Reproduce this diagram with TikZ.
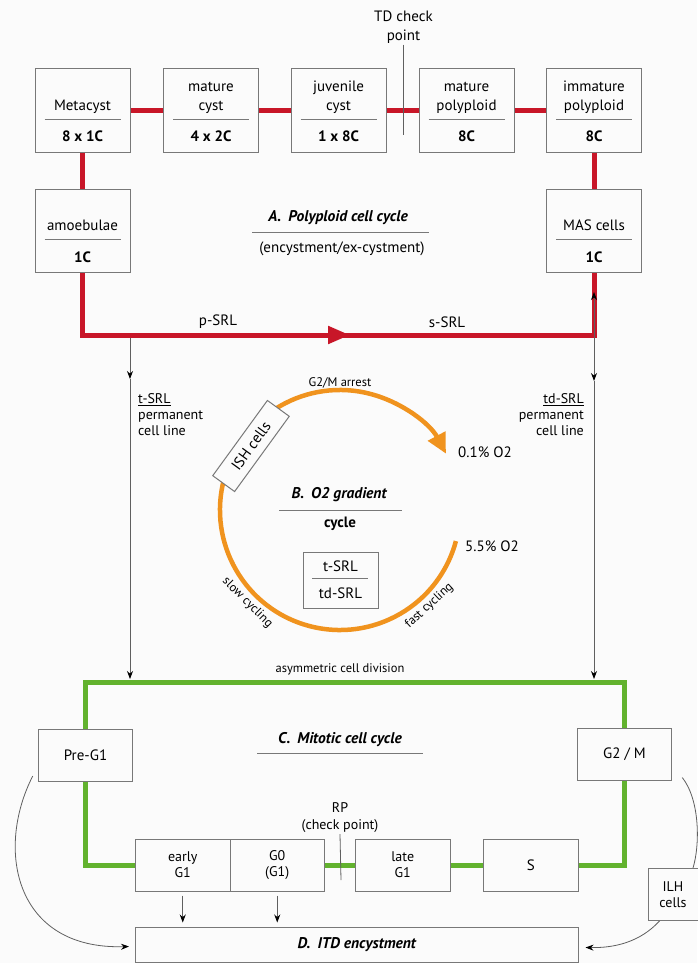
\documentclass[tikz,border=0pt]{standalone}
\usepackage{fontspec}
\setmainfont{PT Sans}
\usepackage{tikz}
\usetikzlibrary{calc,arrows.meta}
\definecolor{cystred}{RGB}{200,22,40}
\definecolor{mitgreen}{RGB}{98,178,46}
\definecolor{oxorange}{RGB}{240,147,30}
\definecolor{boxgray}{RGB}{120,120,120}
\definecolor{linegray}{RGB}{95,95,95}
\definecolor{bg}{RGB}{251,251,251}
\def\basefont{\fontsize{15}{19}\selectfont}
\def\smallfont{\fontsize{14}{16}\selectfont}
\def\tinyfont{\fontsize{12.5}{15}\selectfont}
\def\titlefont{\fontsize{15.5}{19}\selectfont\bfseries\itshape}
\def\drawred{\draw[color=cystred, line width=5pt]}
\def\drawgreen{\draw[color=mitgreen, line width=5pt]}
\def\drawline{\draw[color=linegray, line width=0.8pt]}
\def\drawrule{\draw[color=boxgray, line width=0.9pt]}
\def\stagenode{\node[draw=boxgray, line width=1pt, fill=bg, minimum width=95pt, minimum height=83pt]}
\def\phasenode{\node[draw=boxgray, line width=1pt, fill=bg, minimum width=94.5pt, minimum height=52pt, align=center, font=\smallfont]}
\newcommand{\stagetext}[3]{% box, upper text, lower text
  \node[anchor=south, align=center, inner sep=0pt, text depth=4pt] (#1-up) at ($(#1.center)+(0,4)$) {#2};
  \drawrule ($(#1.center)+(-38,8.5)$) -- ($(#1.center)+(38,8.5)$);
  \node[font=\basefont\bfseries] (#1-lo) at ($(#1.center)+(0,26)$) {#3};
}

\begin{document}
\begin{tikzpicture}[x=1pt,y=-1pt,font=\basefont,
  >={Stealth[length=8pt,width=6pt,color=black]}]
\useasboundingbox (0,0) rectangle (697,963);
\fill[bg] (0,0) rectangle (697,963);

% A. polyploid cell cycle
\stagenode (meta) at (82.5,110.5) {};
\stagenode (mcyst) at (211,110.5) {};
\stagenode (jcyst) at (338.5,110.5) {};
\stagenode (mpoly) at (466.5,110.5) {};
\stagenode (ipoly) at (594,110.5) {};
\stagenode (amoeb) at (82.5,231) {};
\stagenode (mas) at (594,231) {};
\stagetext{meta}{Metacyst}{8 x 1C}
\stagetext{mcyst}{mature\\cyst}{4 x 2C}
\stagetext{jcyst}{juvenile\\cyst}{1 x 8C}
\stagetext{mpoly}{mature\\polyploid}{8C}
\stagetext{ipoly}{immature\\polyploid}{8C}
\stagetext{amoeb}{amoebulae}{1C}
\stagetext{mas}{MAS cells}{1C}

\drawred (meta) -- (mcyst);
\drawred (mcyst) -- (jcyst);
\drawred (jcyst) -- (mpoly);
\drawred (mpoly) -- (ipoly);
\drawred (meta) -- (amoeb);
\drawred (ipoly) -- (mas);

% loop back, arrow head sits in the middle
\coordinate (srl-mid) at (350,335);
\drawred (amoeb.south) |- (srl-mid) -| (mas.south);
\drawred[-{Triangle[length=22pt,width=17pt]}] ($(srl-mid)+(-30,0)$) -- (srl-mid);
\node (psrl) at (218,322) {p-SRL};
\node (ssrl) at (447,322) {s-SRL};

\node[font=\titlefont] (a-title) at (338,218) {A.\hspace{3pt} Polyploid cell cycle};
\drawrule (252,232) -- (429,232);
\node (a-sub) at (342,249) {(encystment/ex-cystment)};

\node[align=center, inner sep=1pt] (tdcheck) at (403.5,27) {TD check\\point};
\coordinate (td-end) at (403.5,135);
\drawline (tdcheck.south) -- (td-end);

% permanent cell lines
\coordinate (t-top) at (130,337.5);
\coordinate (t-mid) at (130,379);
\coordinate (t-bot) at (130,679);
\drawline[->] (t-top) -- (t-mid);
\drawline[->] (t-mid) -- (t-bot);
\coordinate (td-top) at (594,292);
\coordinate (td-mid) at (594,381);
\coordinate (td-bot) at (594,679);
\drawline[<->] (td-top) -- (td-mid);
\drawline[->] (td-mid) -- (td-bot);
\node[anchor=north west, align=left, inner sep=0pt, font=\smallfont] (tsrl) at (138,393) {\underline{t-SRL}\\permanent\\cell line};
\node[anchor=north east, align=right, inner sep=0pt, font=\smallfont] (tdsrl) at (584,393) {\underline{td-SRL}\\permanent\\cell line};

% B. O2 gradient
\coordinate (o2c) at (340,510);
\draw[color=oxorange, line width=4.5pt, -{Triangle[length=20pt,width=19pt]}]
  ($(o2c)+(-15:120pt)$) arc[start angle=-15, end angle=-332, radius=120pt];
\node[draw=boxgray, line width=1pt, fill=bg, rotate=54, minimum width=93pt, minimum height=27pt] (ish) at (251,446) {ISH cells};
\node[font=\tinyfont] (arrest) at (340,383) {G2/M arrest};
\node[font=\tinyfont, rotate=-45] (slow) at ($(o2c)+(-135:131pt)$) {slow cycling};
\node[font=\tinyfont, rotate=43] (fast) at ($(o2c)+(-47:131pt)$) {fast cycling};
\node[anchor=west, inner sep=0pt] (low-o2) at (458,452) {0.1\% O2};
\node[anchor=west, inner sep=0pt] (high-o2) at (465,546) {5.5\% O2};

\node[font=\titlefont] (b-title) at (339,495) {B.\hspace{3pt} O2 gradient};
\drawrule (279,510) -- (402,510);
\node[font=\basefont\bfseries] (b-sub) at (340,524) {cycle};
\node[draw=boxgray, line width=1pt, fill=bg, minimum width=75pt, minimum height=56pt] (srlbox) at (340.5,580) {};
\node (srlbox-up) at (340.5,566) {t-SRL};
\drawrule (312,578) -- (368,578);
\node (srlbox-lo) at (340.5,593) {td-SRL};

% C. mitotic cell cycle
\node[font=\tinyfont] (asym) at (340,669) {asymmetric cell division};
\phasenode[font=\basefont] (preg1) at (85.5,755.5) {Pre-G1};
\phasenode[font=\basefont] (g2m) at (624.5,754) {G2 / M};
\phasenode (earlyg1) at (182.75,865) {early\\G1};
\phasenode (g0) at (277.25,865) {G0\\(G1)};
\phasenode (lateg1) at (402.75,865) {late\\G1};
\phasenode[font=\basefont] (sphase) at (530.75,865) {S};
\phasenode[minimum width=50pt] (ilh) at (673,894.5) {ILH\\cells};
\node[draw=boxgray, line width=1pt, fill=bg, minimum width=442.5pt, minimum height=35pt, font=\titlefont] (itd) at (356.75,944.5) {D.\hspace{3pt} ITD encystment};

\drawgreen (preg1.north) -- ++(0,-47) -| (g2m.north);
\drawgreen (preg1.south) |- (earlyg1.west);
\drawgreen (g0.east) -- (lateg1.west);
\drawgreen (lateg1.east) -- (sphase.west);
\drawgreen (sphase.east) -| (g2m.south);

\node[font=\titlefont] (c-title) at (340,740) {C.\hspace{3pt} Mitotic cell cycle};
\drawrule (257,753) -- (423,753);
\node[align=center, inner sep=1pt, font=\fontsize{14}{17}\selectfont] (rp) at (340,818) {RP\\(check point)};
\coordinate (rp-end) at (341,880);
\drawline (rp.south) -- (rp-end);

% into encystment
\drawline[->, shorten <=4pt, shorten >=4pt] (earlyg1.south) -- (earlyg1.south |- itd.north);
\drawline[->, shorten <=4pt, shorten >=4pt] (g0.south) -- (g0.south |- itd.north);
\drawline[->] ($(preg1.south west)+(-5,-6)$) .. controls (-5,850) and (15,950) .. ($(itd.west)+(-6,2)$);
\drawline ($(g2m.south east)+(10,-3)$) .. controls (700,800) and (700,845) .. ($(ilh.north)+(20,0)$);
\drawline[->] ($(ilh.south west)+(12,0)$) .. controls (640,942) and (615,948) .. ($(itd.east)+(7,3)$);
\end{tikzpicture}
\end{document}
